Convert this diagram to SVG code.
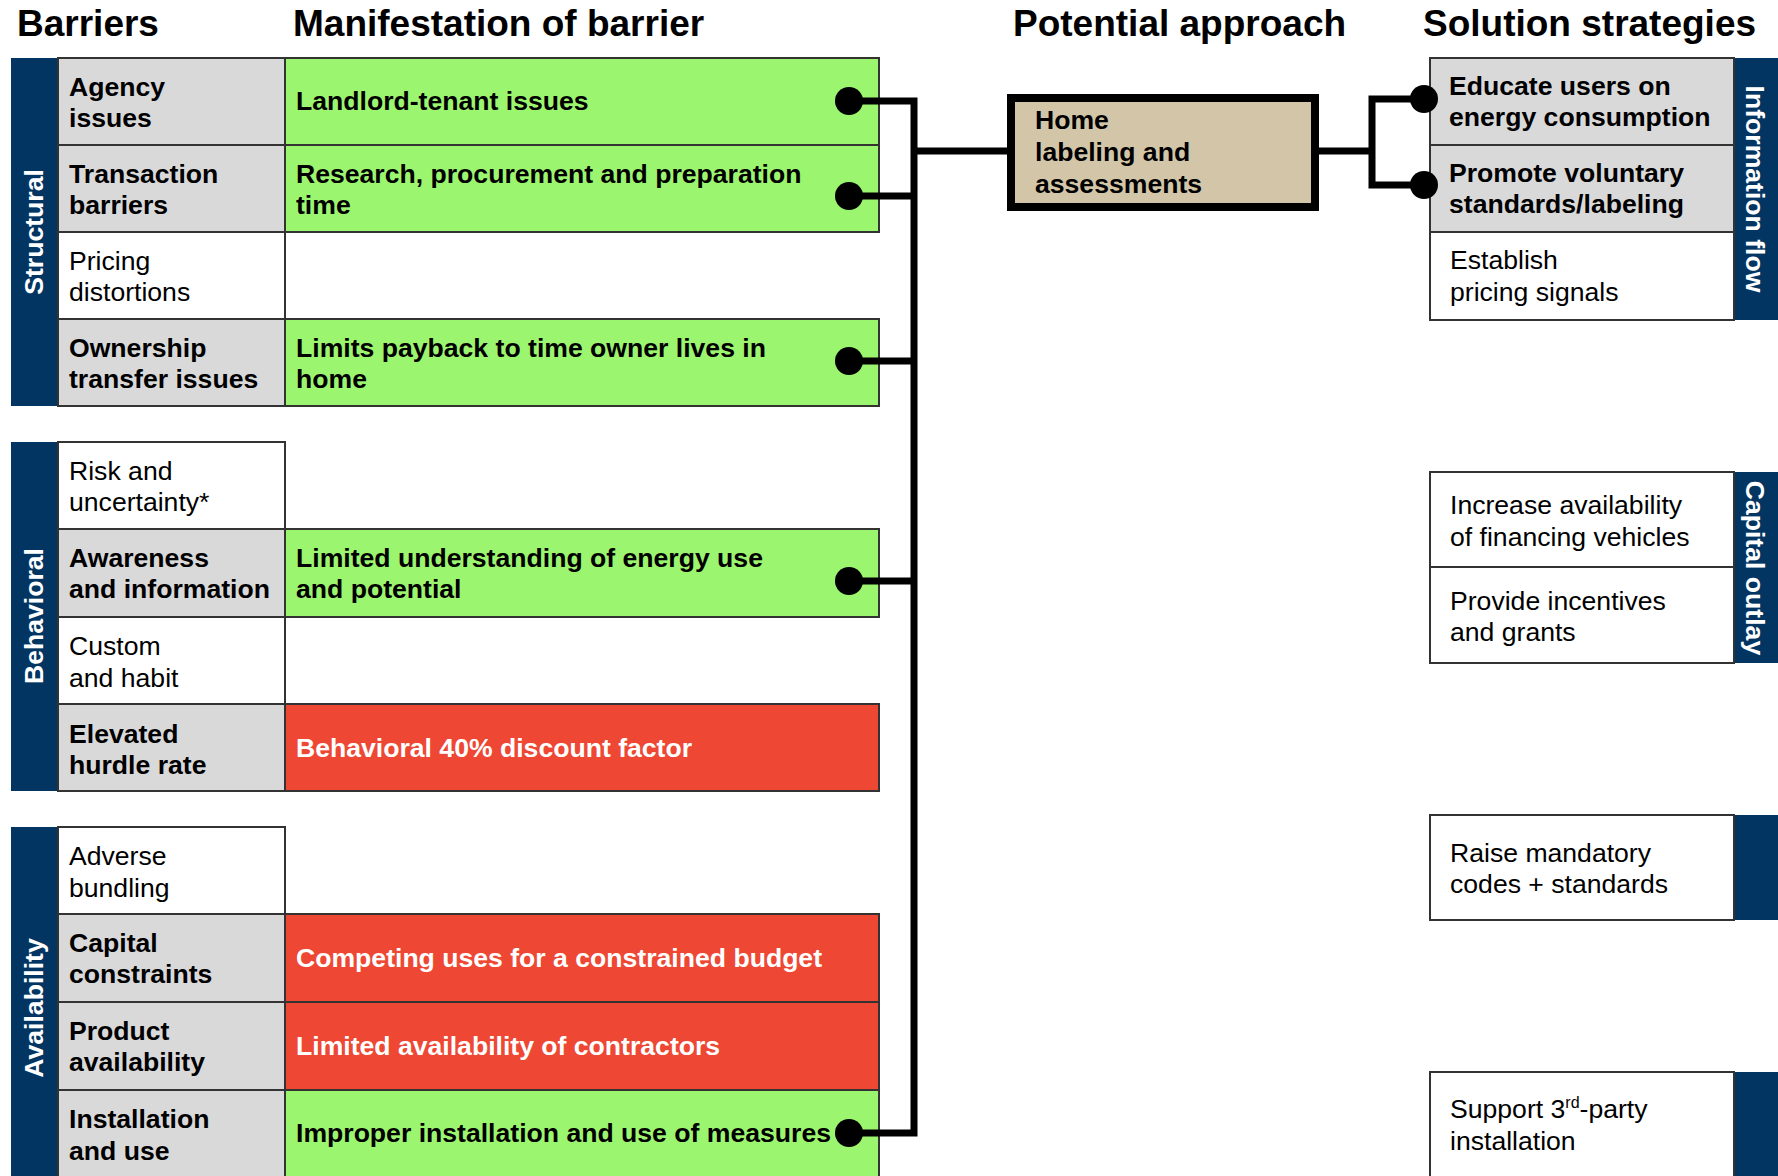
<svg xmlns="http://www.w3.org/2000/svg" width="1778" height="1176" viewBox="0 0 1778 1176">
<style>
text { font-family: "Liberation Sans", Arial, Helvetica, sans-serif; font-size: 26.6px; fill: #000; }
.b { font-weight: bold; }
.title { font-size: 37px; font-weight: bold; }
.w { fill: #fff; }
.navy { fill: #033563; }
.grey { fill: #D9D9D9; stroke: #333; stroke-width: 2; }
.white { fill: #fff; stroke: #333; stroke-width: 2; }
.green { fill: #9CF56E; stroke: #333; stroke-width: 2; }
.red { fill: #EE4733; stroke: #333; stroke-width: 2; }
.conn { stroke: #000; stroke-width: 7; fill: none; stroke-linejoin: miter; }
.dot { fill: #000; }
.home { fill: #D3C6A8; stroke: #000; stroke-width: 8; }
</style>
<rect width="1778" height="1176" fill="#fff"/>

<g id="titles">
<text class="title" x="17" y="36">Barriers</text>
<text class="title" x="293" y="36">Manifestation of barrier</text>
<text class="title" x="1013" y="36">Potential approach</text>
<text class="title" x="1423" y="36">Solution strategies</text>
</g>

<!-- Structural group -->
<g id="structural">
<rect class="navy" x="11" y="58" width="47" height="348"/>
<text class="b w" transform="translate(43,232) rotate(-90)" text-anchor="middle">Structural</text>
</g>
<g id="agency">
<rect class="grey" x="58" y="58" width="227" height="87"/>
<text class="b" x="69" y="95.5">Agency</text>
<text class="b" x="69" y="127">issues</text>
</g>
<g id="landlord">
<rect class="green" x="285" y="58" width="594" height="87"/>
<text class="b" x="296" y="110">Landlord-tenant issues</text>
</g>
<g id="transaction">
<rect class="grey" x="58" y="145" width="227" height="87"/>
<text class="b" x="69" y="182.5">Transaction</text>
<text class="b" x="69" y="214">barriers</text>
</g>
<g id="research">
<rect class="green" x="285" y="145" width="594" height="87"/>
<text class="b" x="296" y="182.5">Research, procurement and preparation</text>
<text class="b" x="296" y="214">time</text>
</g>
<g id="pricing">
<rect class="white" x="58" y="232" width="227" height="87"/>
<text x="69" y="269.5">Pricing</text>
<text x="69" y="301">distortions</text>
</g>
<g id="ownership">
<rect class="grey" x="58" y="319" width="227" height="87"/>
<text class="b" x="69" y="356.5">Ownership</text>
<text class="b" x="69" y="388">transfer issues</text>
</g>
<g id="limits">
<rect class="green" x="285" y="319" width="594" height="87"/>
<text class="b" x="296" y="356.5">Limits payback to time owner lives in</text>
<text class="b" x="296" y="388">home</text>
</g>

<!-- Behavioral group -->
<g id="behavioral">
<rect class="navy" x="11" y="442" width="47" height="349"/>
<text class="b w" transform="translate(43,616) rotate(-90)" text-anchor="middle">Behavioral</text>
</g>
<g id="risk">
<rect class="white" x="58" y="442" width="227" height="87"/>
<text x="69" y="480">Risk and</text>
<text x="69" y="511">uncertainty*</text>
</g>
<g id="awareness">
<rect class="grey" x="58" y="529" width="227" height="88"/>
<text class="b" x="69" y="566.5">Awareness</text>
<text class="b" x="69" y="598">and information</text>
</g>
<g id="limited-understanding">
<rect class="green" x="285" y="529" width="594" height="88"/>
<text class="b" x="296" y="566.5">Limited understanding of energy use</text>
<text class="b" x="296" y="598">and potential</text>
</g>
<g id="custom">
<rect class="white" x="58" y="617" width="227" height="87"/>
<text x="69" y="655">Custom</text>
<text x="69" y="686.5">and habit</text>
</g>
<g id="elevated">
<rect class="grey" x="58" y="704" width="227" height="87"/>
<text class="b" x="69" y="742.5">Elevated</text>
<text class="b" x="69" y="774">hurdle rate</text>
</g>
<g id="discount">
<rect class="red" x="285" y="704" width="594" height="87"/>
<text class="b w" x="296" y="757">Behavioral 40% discount factor</text>
</g>

<!-- Availability group -->
<g id="availability">
<rect class="navy" x="11" y="827" width="47" height="363"/>
<text class="b w" transform="translate(43,1008) rotate(-90)" text-anchor="middle">Availability</text>
</g>
<g id="adverse">
<rect class="white" x="58" y="827" width="227" height="87"/>
<text x="69" y="865">Adverse</text>
<text x="69" y="896.5">bundling</text>
</g>
<g id="capital">
<rect class="grey" x="58" y="914" width="227" height="88"/>
<text class="b" x="69" y="951.5">Capital</text>
<text class="b" x="69" y="983">constraints</text>
</g>
<g id="competing">
<rect class="red" x="285" y="914" width="594" height="88"/>
<text class="b w" x="296" y="967">Competing uses for a constrained budget</text>
</g>
<g id="product">
<rect class="grey" x="58" y="1002" width="227" height="88"/>
<text class="b" x="69" y="1039.5">Product</text>
<text class="b" x="69" y="1071">availability</text>
</g>
<g id="contractors">
<rect class="red" x="285" y="1002" width="594" height="88"/>
<text class="b w" x="296" y="1055">Limited availability of contractors</text>
</g>
<g id="installation">
<rect class="grey" x="58" y="1090" width="227" height="100"/>
<text class="b" x="69" y="1128">Installation</text>
<text class="b" x="69" y="1159.5">and use</text>
</g>
<g id="improper">
<rect class="green" x="285" y="1090" width="594" height="100"/>
<text class="b" x="296" y="1142">Improper installation and use of measures</text>
</g>

<!-- Potential approach -->
<g id="home">
<rect class="home" x="1011" y="98" width="304" height="109"/>
<text class="b" x="1035" y="129">Home</text>
<text class="b" x="1035" y="161">labeling and</text>
<text class="b" x="1035" y="193">assessments</text>
</g>

<!-- Solution strategies -->
<g id="information-flow">
<rect class="navy" x="1734" y="58" width="44" height="262"/>
<text class="b w" transform="translate(1746,189) rotate(90)" text-anchor="middle">Information flow</text>
</g>
<g id="educate">
<rect class="grey" x="1430" y="58" width="304" height="87"/>
<text class="b" x="1449" y="94.5">Educate users on</text>
<text class="b" x="1449" y="126">energy consumption</text>
</g>
<g id="promote">
<rect class="grey" x="1430" y="145" width="304" height="87"/>
<text class="b" x="1449" y="181.5">Promote voluntary</text>
<text class="b" x="1449" y="213">standards/labeling</text>
</g>
<g id="establish">
<rect class="white" x="1430" y="232" width="304" height="88"/>
<text x="1450" y="269">Establish</text>
<text x="1450" y="301">pricing signals</text>
</g>

<g id="capital-outlay">
<rect class="navy" x="1734" y="472" width="44" height="191"/>
<text class="b w" transform="translate(1746,568) rotate(90)" text-anchor="middle">Capital outlay</text>
</g>
<g id="increase">
<rect class="white" x="1430" y="472" width="304" height="95"/>
<text x="1450" y="514">Increase availability</text>
<text x="1450" y="546">of financing vehicles</text>
</g>
<g id="provide">
<rect class="white" x="1430" y="567" width="304" height="96"/>
<text x="1450" y="610">Provide incentives</text>
<text x="1450" y="641">and grants</text>
</g>

<g id="raise">
<rect class="navy" x="1734" y="815" width="44" height="105"/>
<rect class="white" x="1430" y="815" width="304" height="105"/>
<text x="1450" y="862">Raise mandatory</text>
<text x="1450" y="893">codes + standards</text>
</g>

<g id="support">
<rect class="navy" x="1734" y="1072" width="44" height="118"/>
<rect class="white" x="1430" y="1072" width="304" height="118"/>
<text x="1450" y="1118">Support 3<tspan font-size="16" dy="-10">rd</tspan><tspan dy="10">-party</tspan></text>
<text x="1450" y="1150">installation</text>
</g>

<!-- Connectors -->
<g id="connectors">
<path class="conn" d="M849,101 H914 V1133 H849"/>
<path class="conn" d="M849,196 H914"/>
<path class="conn" d="M849,361 H914"/>
<path class="conn" d="M849,581 H914"/>
<path class="conn" d="M914,151 H1011"/>
<path class="conn" d="M1315,151 H1372"/>
<path class="conn" d="M1424,99 H1372 V185 H1424"/>
<circle class="dot" cx="849" cy="101" r="14"/>
<circle class="dot" cx="849" cy="196" r="14"/>
<circle class="dot" cx="849" cy="361" r="14"/>
<circle class="dot" cx="849" cy="581" r="14"/>
<circle class="dot" cx="849" cy="1133" r="14"/>
<circle class="dot" cx="1424" cy="99" r="14"/>
<circle class="dot" cx="1424" cy="185" r="14"/>
</g>
</svg>
